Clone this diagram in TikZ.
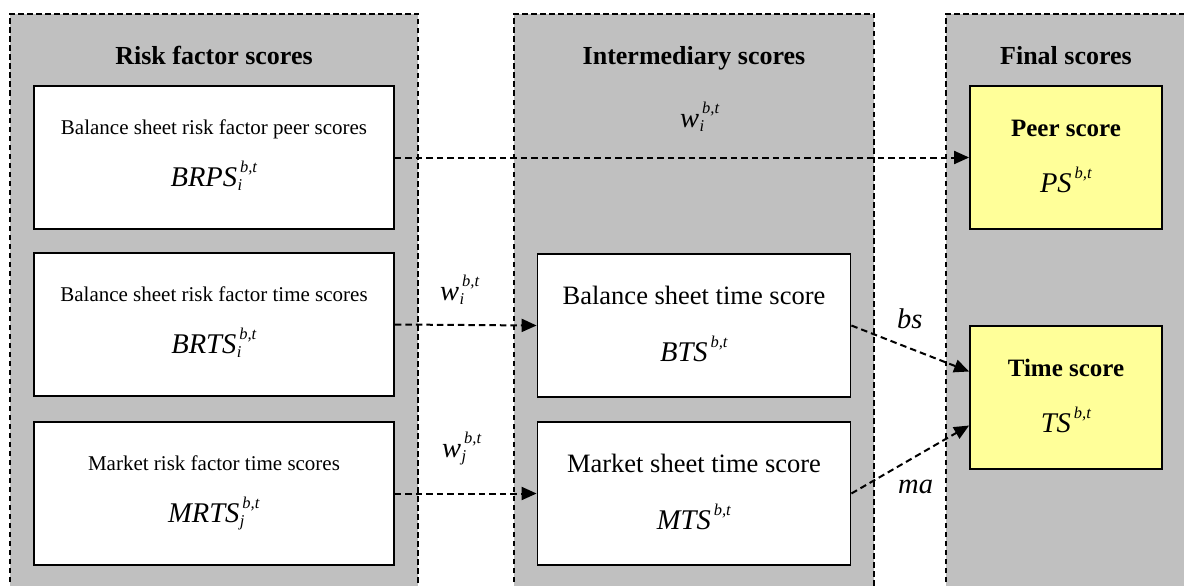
\documentclass[tikz,border=0pt]{standalone}
\usepackage{fontspec}
\setmainfont{Liberation Serif}
\usetikzlibrary{arrows.meta}
\definecolor{panelgray}{HTML}{C0C0C0}
\definecolor{scoreyellow}{HTML}{FFFF99}
\newcommand\fsz[1]{\fontsize{#1}{#1}\selectfont}
\newcommand\symb[3]{\textit{#1}\rlap{\kern0.5pt\raisebox{-4pt}{\fsz{16.5}\textit{#2}}}\raisebox{14pt}{\fsz{16.5}\kern3pt\textit{#3}}}
\tikzset{
  panelborder/.style={line width=1.8pt, dash pattern=on 5.5pt off 3.5pt},
  whitebox/.style={draw, line width=1.8pt, fill=white, inner sep=0pt, minimum width=#1, minimum height=143pt},
  yellowbox/.style={draw, line width=1.8pt, fill=scoreyellow, inner sep=0pt, minimum width=192pt, minimum height=143pt},
  title/.style={anchor=base, font=\fsz{26}\bfseries, inner sep=0pt},
  smalltxt/.style={anchor=base, font=\fsz{21}, inner sep=0pt},
  midtxt/.style={anchor=base, font=\fsz{26.5}, inner sep=0pt},
  boldtxt/.style={anchor=base, font=\fsz{25}\bfseries, inner sep=0pt},
  symtxt/.style={anchor=base, font=\fsz{28.5}, inner sep=0pt},
  conn/.style={line width=2pt, dash pattern=on 6.5pt off 4pt, -{Triangle[length=15pt,width=13pt]}}
}
\begin{document}
\begin{tikzpicture}[x=1pt,y=-1pt]
\clip (0,0) rectangle (1184,586);
\fill[white] (0,0) rectangle (1184,586);
% panels
\fill[panelgray] (10,14) rectangle (418,600);
\draw[panelborder] (10,600) -- (10,14) -- (418,14) -- (418,600);
\fill[panelgray] (514,14) rectangle (874,600);
\draw[panelborder] (514,600) -- (514,14) -- (874,14) -- (874,600);
\fill[panelgray] (946,14) rectangle (1200,600);
\draw[panelborder] (946,600) -- (946,14) -- (1200,14);
% titles
\node[title] (t1) at (214,65) {Risk factor scores};
\node[title] (t2) at (694,65) {Intermediary scores};
\node[title] (t3) at (1066,65) {Final scores};
% left boxes
\node[whitebox=360pt] (brps) at (214,157.5) {};
\node[whitebox=360pt] (brts) at (214,324.5) {};
\node[whitebox=360pt] (mrts) at (214,493.5) {};
\node[smalltxt] (brpsA) at ([yshift=-49pt]brps.north) {Balance sheet risk factor peer scores};
\node[symtxt] (brpsB) at ([yshift=-101pt]brps.north) {\symb{BRPS}{i}{b,t}};
\node[smalltxt] (brtsA) at ([yshift=-49pt]brts.north) {Balance sheet risk factor time scores};
\node[symtxt] (brtsB) at ([yshift=-101pt]brts.north) {\symb{BRTS}{i}{b,t}};
\node[smalltxt] (mrtsA) at ([yshift=-49pt]mrts.north) {Market risk factor time scores};
\node[symtxt] (mrtsB) at ([yshift=-101pt]mrts.north) {\symb{MRTS}{j}{b,t}};
% intermediary boxes
\node[whitebox=313pt] (bts) at (694,325.5) {};
\node[whitebox=313pt] (mts) at (694,493.5) {};
\node[midtxt] (btsA) at ([yshift=-51pt]bts.north) {Balance sheet time score};
\node[symtxt] (btsB) at ([yshift=-108pt]bts.north) {\symb{BTS}{}{b,t}};
\node[midtxt] (mtsA) at ([yshift=-51pt]mts.north) {Market sheet time score};
\node[symtxt] (mtsB) at ([yshift=-108pt]mts.north) {\symb{MTS}{}{b,t}};
% final boxes
\node[yellowbox] (ps) at (1066,157.5) {};
\node[yellowbox] (ts) at (1066,397.5) {};
\node[boldtxt] (psA) at ([yshift=-51pt]ps.north) {Peer score};
\node[symtxt] (psB) at ([yshift=-107pt]ps.north) {\symb{PS}{}{b,t}};
\node[boldtxt] (tsA) at ([yshift=-51pt]ts.north) {Time score};
\node[symtxt] (tsB) at ([yshift=-107pt]ts.north) {\symb{TS}{}{b,t}};
% weight labels
\node[symtxt, anchor=base west] (w0) at (680,128) {\symb{w}{i}{b,t}};
\node[symtxt, anchor=base west] (w1) at (440,300) {\symb{w}{i}{b,t}};
\node[symtxt, anchor=base west] (w2) at (442,457) {\symb{w}{j}{b,t}};
\node[symtxt, anchor=base west] (lbs) at (897,328) {\textit{bs}};
\node[symtxt, anchor=base west] (lma) at (898,493) {\textit{ma}};
% connectors
\draw[conn] (brps.east) -- (ps.west);
\draw[conn] (brts.east) -- (bts.west);
\draw[conn] (mrts.east) -- (mts.west);
\draw[conn] (bts.east) -- ([yshift=26pt]ts.west);
\draw[conn] (mts.east) -- ([yshift=-28pt]ts.west);
\end{tikzpicture}
\end{document}
